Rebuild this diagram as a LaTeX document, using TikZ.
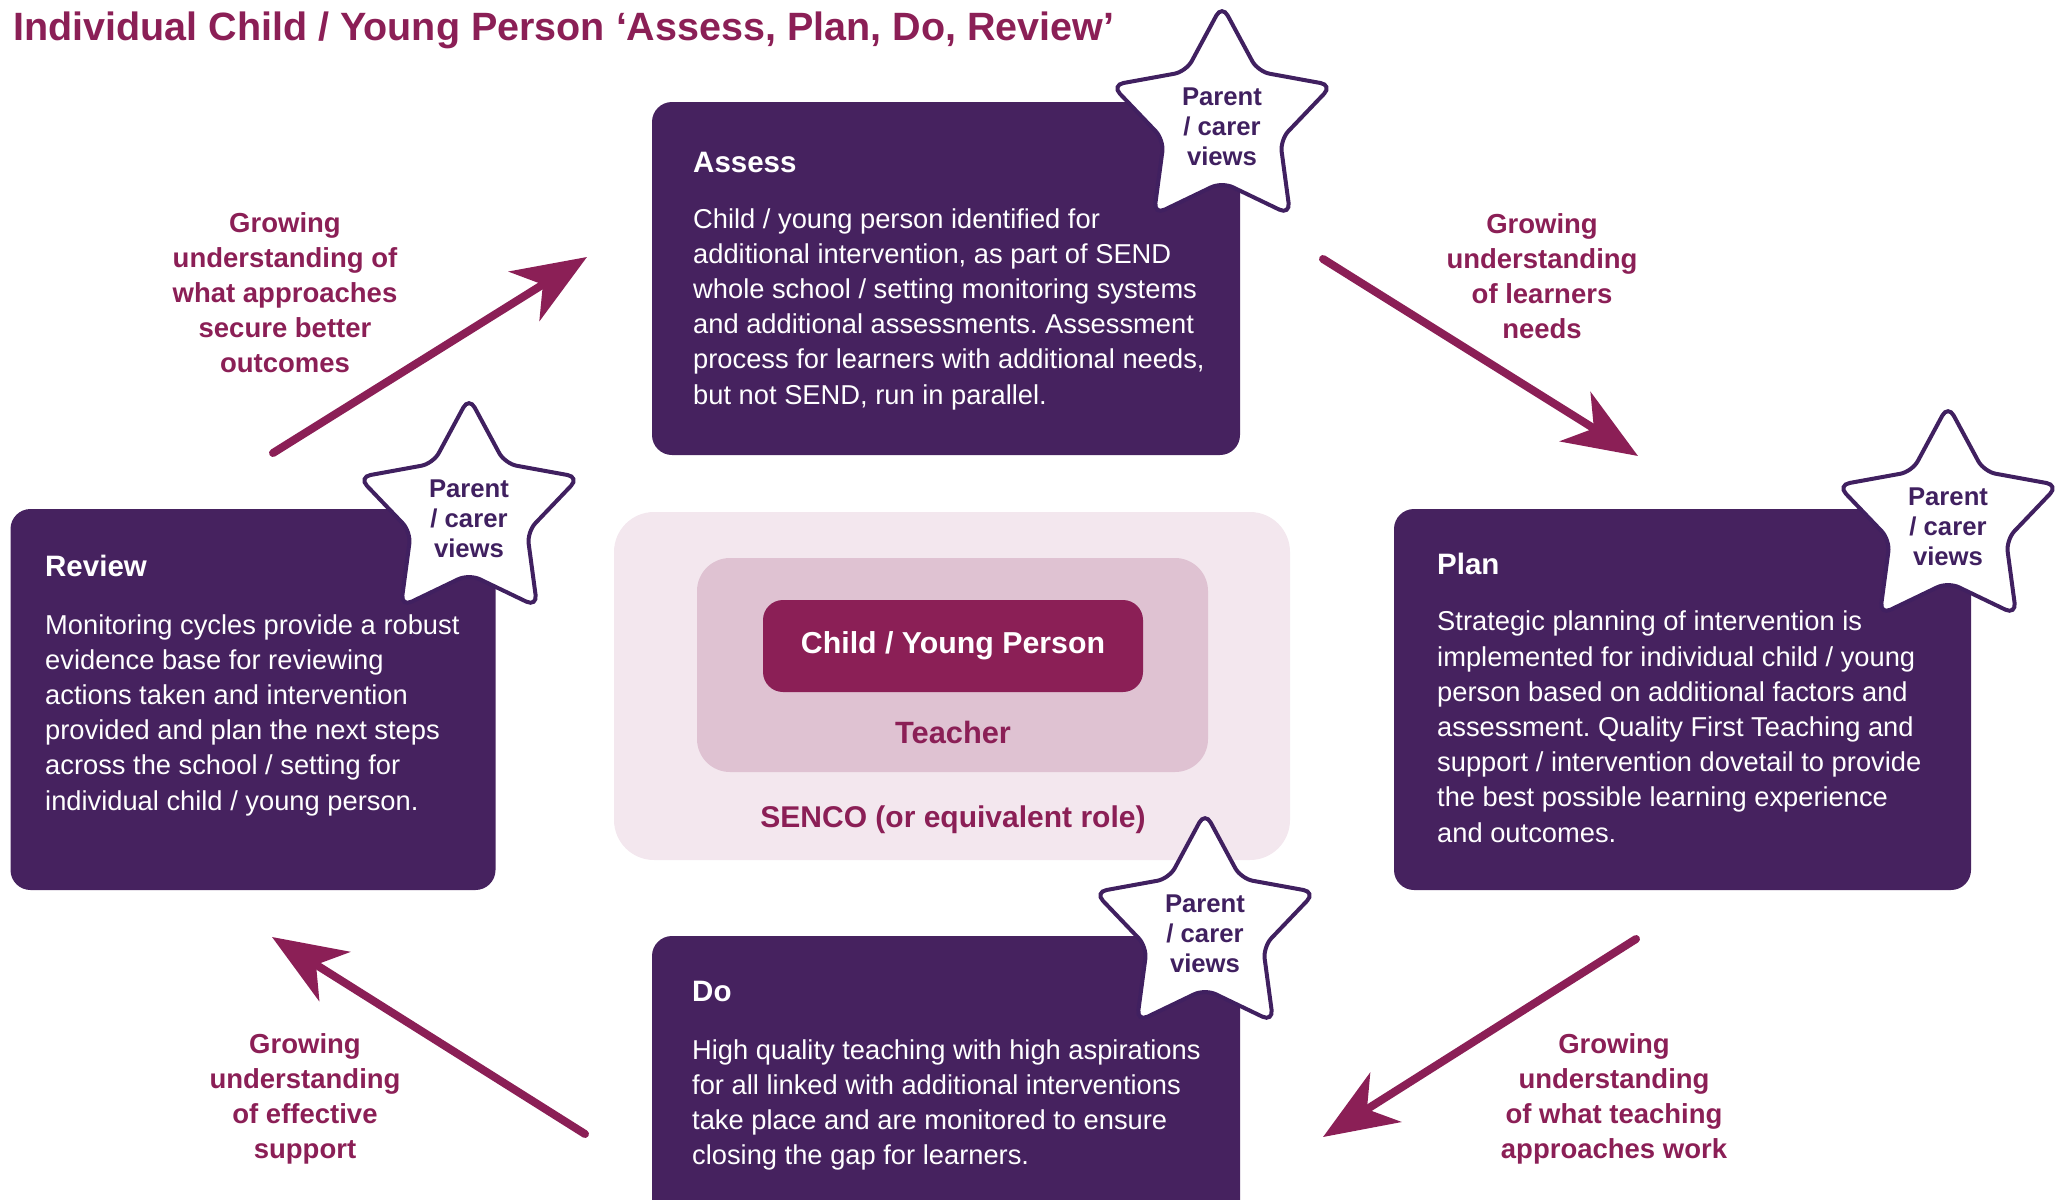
\documentclass[tikz,border=0pt]{standalone}
\usepackage{fontspec}
\setmainfont{Liberation Sans}
\usetikzlibrary{shapes.geometric,arrows.meta,positioning,calc}
\definecolor{boxpurple}{HTML}{46225F}
\definecolor{berry}{HTML}{8B1F56}
\definecolor{sencobg}{HTML}{F3E7EE}
\definecolor{teacherbg}{HTML}{DFC2D2}
\definecolor{starline}{HTML}{402060}
\frenchspacing

\begin{document}
\begin{tikzpicture}[x=1pt,y=-1pt,
  stage/.style={rectangle, rounded corners=20pt, fill=boxpurple, inner sep=0pt},
  heading/.style={font=\fontsize{29.5}{35}\selectfont\bfseries, text=white, inner sep=0pt, anchor=base west},
  body/.style={font=\fontsize{27.3}{35.2}\selectfont, text=white, align=left, inner sep=0pt, anchor=base west},
  pstar/.style={star, star points=5, star point ratio=1.9, minimum size=232pt, inner sep=0pt,
    fill=white, draw=starline, line width=4pt, rounded corners=12pt},
  views/.style={font=\fontsize{25.7}{30}\selectfont\bfseries, text=starline, align=center, inner sep=0pt},
  growing/.style={font=\fontsize{27.5}{35}\selectfont\bfseries, text=berry, align=center, inner sep=0pt},
  flow/.style={draw=berry, line width=8pt, line cap=round, -{Stealth[length=74pt,width=58pt,inset=22pt]}}
]
  \useasboundingbox (0,0) rectangle (2058,1199);
  \clip (0,0) rectangle (2058,1199);

  \node[anchor=base west, inner sep=0pt, text=berry, font=\fontsize{39.5}{45}\selectfont\bfseries] (title)
    at (13,41) {Individual Child / Young Person ‘Assess, Plan, Do, Review’};

  % the four stages
  \node[stage, minimum width=588pt, minimum height=353pt] (assess) at (946,278.5) {};
  \node[stage, minimum width=577pt, minimum height=381pt] (plan) at (1682.5,699.5) {};
  \node[stage, minimum width=588pt, minimum height=304pt] (do) at (946,1088) {};
  \node[stage, minimum width=485pt, minimum height=381pt] (review) at (253,699.5) {};

  % body texts sit on the baseline of their last line
  \node[heading] (assess-h) at (693,172) {Assess};
  \node[body] (assess-t) at (693,404) {Child / young person identified for\\
    additional intervention, as part of SEND\\
    whole school / setting monitoring systems\\
    and additional assessments. Assessment\\
    process for learners with additional needs,\\
    but not SEND, run in parallel.};

  \node[heading] (plan-h) at (1437,574) {Plan};
  \node[body] (plan-t) at (1437,842) {Strategic planning of intervention is\\
    implemented for individual child / young\\
    person based on additional factors and\\
    assessment. Quality First Teaching and\\
    support / intervention dovetail to provide\\
    the best possible learning experience\\
    and outcomes.};

  \node[heading] (do-h) at (692,1001) {Do};
  \node[body] (do-t) at (692,1164.6) {High quality teaching with high aspirations\\
    for all linked with additional interventions\\
    take place and are monitored to ensure\\
    closing the gap for learners.};

  \node[heading] (review-h) at (45,576) {Review};
  \node[body] (review-t) at (45,810) {Monitoring cycles provide a robust\\
    evidence base for reviewing\\
    actions taken and intervention\\
    provided and plan the next steps\\
    across the school / setting for\\
    individual child / young person.};

  % centre
  \node[fill=sencobg, rounded corners=40pt, minimum width=676pt, minimum height=348pt] (senco) at (952,686) {};
  \node[fill=teacherbg, rounded corners=33pt, minimum width=511pt, minimum height=214pt] (teacher) at (952.5,665) {};
  \node[fill=berry, rounded corners=20pt, minimum width=380pt, minimum height=92pt, text=white,
    font=\fontsize{30.3}{36}\selectfont\bfseries] (child) at (953,646) {Child / Young Person};
  \node[anchor=base, inner sep=0pt, text=berry, font=\fontsize{30.8}{36}\selectfont\bfseries] (teacher-t)
    at (953,743) {Teacher};
  \node[anchor=base, inner sep=0pt, text=berry, font=\fontsize{30}{36}\selectfont\bfseries] (senco-t)
    at (953,827) {SENCO (or equivalent role)};

  % parent / carer stars
  \node[pstar] (assess-star) at (1222,121) {};
  \node[views] (assess-v) at ([yshift=-6pt]assess-star.center) {Parent\\/ carer\\views};
  \node[pstar] (plan-star) at (1948,521) {};
  \node[views] (plan-v) at ([yshift=-6pt]plan-star.center) {Parent\\/ carer\\views};
  \node[pstar] (do-star) at (1205,928) {};
  \node[views] (do-v) at ([yshift=-6pt]do-star.center) {Parent\\/ carer\\views};
  \node[pstar] (review-star) at (469,513) {};
  \node[views] (review-v) at ([yshift=-6pt]review-star.center) {Parent\\/ carer\\views};

  % cycle arrows
  \coordinate (ra-from) at (273,453);
  \coordinate (ra-to) at (587,257);
  \coordinate (ap-from) at (1323,259);
  \coordinate (ap-to) at (1638,456);
  \coordinate (pd-from) at (1636,939);
  \coordinate (pd-to) at (1323,1137);
  \coordinate (dr-from) at (585,1134);
  \coordinate (dr-to) at (272,937);
  \draw[flow] (ra-from) -- (ra-to);
  \draw[flow] (ap-from) -- (ap-to);
  \draw[flow] (pd-from) -- (pd-to);
  \draw[flow] (dr-from) -- (dr-to);

  \node[growing] (grow-ra) at (285,293) {Growing\\understanding of\\what approaches\\secure better\\outcomes};
  \node[growing] (grow-ap) at (1542,276) {Growing\\understanding\\of learners\\needs};
  \node[growing] (grow-pd) at (1614,1099) {Growing\\understanding\\of what teaching\\approaches work};
  \node[growing] (grow-dr) at (305,1099) {Growing\\understanding\\of effective\\support};
\end{tikzpicture}
\end{document}
